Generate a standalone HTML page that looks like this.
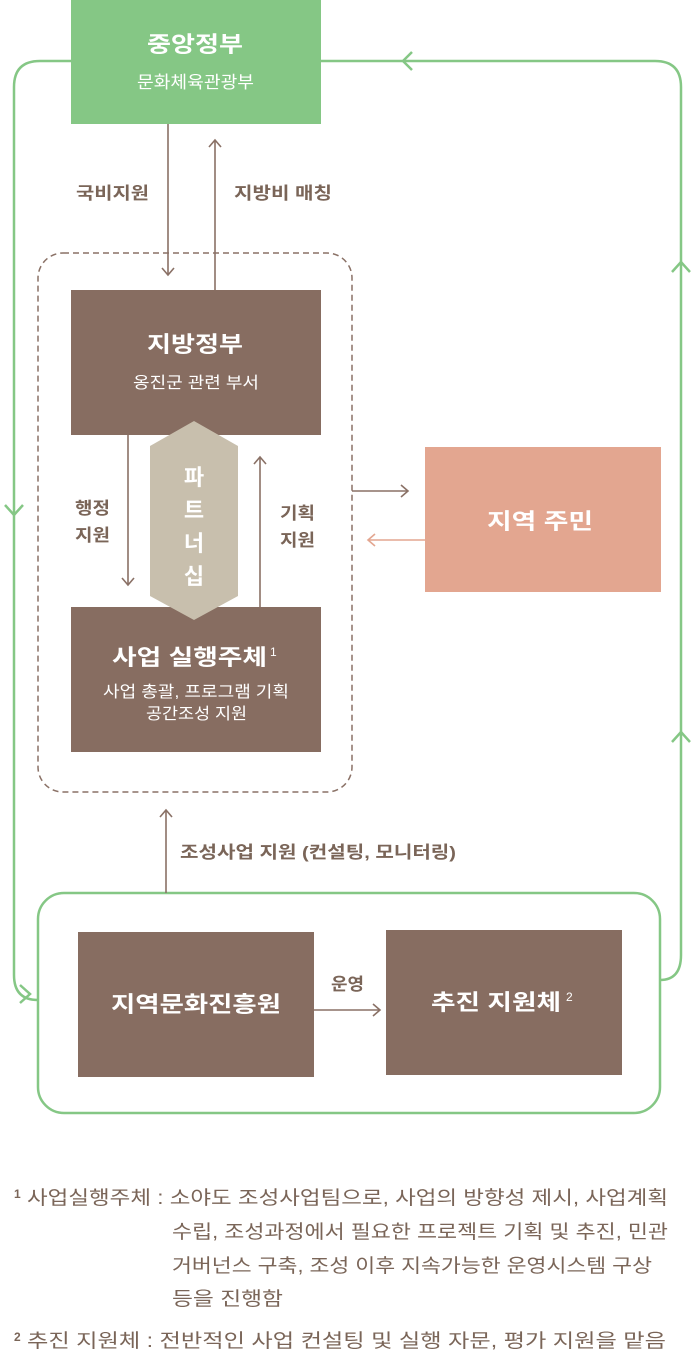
<!DOCTYPE html>
<html><head><meta charset="utf-8"><style>
body{margin:0;background:#fff;}
svg{display:block;font-family:"Liberation Sans","Noto Sans CJK KR",sans-serif;}
</style></head><body>
<svg width="697" height="1358" viewBox="0 0 697 1358">
<g fill="none" stroke="#85c785" stroke-width="2.5">
<path d="M71 61 H40 Q14 61 14 87 V975 Q14 1000 38 1000"/>
<path d="M321 61 H655 Q681 61 681 87 V955 Q681 980 660 980"/>
<path d="M412 52 L403 61 L412 70"/>
<path d="M672 272 L681 262 L690 272"/>
<path d="M672 742 L681 732 L690 742"/>
<path d="M5 505 L14 515 L23 505"/>
<path d="M20 985 L30 994 L20 1003" />
<rect x="38" y="893" width="622" height="220" rx="26"/>
</g>
<rect x="71" y="0" width="250" height="124" fill="#85c785"/>
<g lengthAdjust="spacingAndGlyphs">
<text x="147" y="52" textLength="96" lengthAdjust="spacingAndGlyphs" fill="#fff" font-size="22" font-weight="bold">중앙정부</text>
<text x="137" y="88" textLength="117" lengthAdjust="spacingAndGlyphs" fill="#fff" font-size="17">문화체육관광부</text>
</g>
<rect x="38" y="253" width="314" height="539" rx="25" fill="none" stroke="#8a7166" stroke-width="1.5" stroke-dasharray="6 4"/>
<g stroke="#8a7166" stroke-width="1.6" fill="none">
<path d="M168 124 V275 M162 268 L168 275 L174 268"/>
<path d="M215 290 V140 M209 147 L215 140 L221 147"/>
<path d="M128 435 V585 M122 578 L128 585 L134 578"/>
<path d="M260 607 V457 M254 464 L260 457 L266 464"/>
<path d="M352 491 H408 M401 485 L408 491 L401 497"/>
<path d="M166 893 V810 M160 817 L166 810 L172 817"/>
<path d="M314 1010 H380 M373 1004 L380 1010 L373 1016"/>
</g>
<path d="M425 540 H368 M375 534 L368 540 L375 546" stroke="#e3a690" stroke-width="1.6" fill="none"/>
<g fill="#7a6558" font-size="17" font-weight="bold">
<text x="76" y="199" textLength="73" lengthAdjust="spacingAndGlyphs">국비지원</text>
<text x="234" y="199" textLength="98" lengthAdjust="spacingAndGlyphs">지방비 매칭</text>
<text x="75" y="514" textLength="35" lengthAdjust="spacingAndGlyphs">행정</text><text x="75" y="541" textLength="35" lengthAdjust="spacingAndGlyphs">지원</text>
<text x="280" y="519" textLength="35" lengthAdjust="spacingAndGlyphs">기획</text><text x="280" y="546" textLength="35" lengthAdjust="spacingAndGlyphs">지원</text>
<text x="180" y="858" textLength="276" lengthAdjust="spacingAndGlyphs">조성사업 지원 (컨설팅, 모니터링)</text>
<text x="331" y="990" textLength="33" lengthAdjust="spacingAndGlyphs">운영</text>
</g>
<rect x="71" y="290" width="250" height="145" fill="#876d61"/>
<text x="147" y="352" textLength="96" lengthAdjust="spacingAndGlyphs" fill="#fff" font-size="22" font-weight="bold">지방정부</text>
<text x="133" y="388" textLength="126" lengthAdjust="spacingAndGlyphs" fill="#fff" font-size="16">옹진군 관련 부서</text>
<rect x="71" y="607" width="250" height="145" fill="#876d61"/>
<text x="112" y="665" textLength="155" lengthAdjust="spacingAndGlyphs" fill="#fff" font-size="22" font-weight="bold">사업 실행주체</text>
<text x="270" y="656" fill="#fff" font-size="12">1</text>
<text x="103" y="697" textLength="186" lengthAdjust="spacingAndGlyphs" fill="#fff" font-size="16">사업 총괄, 프로그램 기획</text>
<text x="146" y="719" textLength="101" lengthAdjust="spacingAndGlyphs" fill="#fff" font-size="16">공간조성 지원</text>
<polygon points="194,421 238,446 238,596 194,620 150,596 150,446" fill="#c8bfad"/>
<g fill="#fff" font-size="22" font-weight="bold" text-anchor="middle">
<text x="194" y="485">파</text><text x="194" y="518">트</text><text x="194" y="551">너</text><text x="194" y="584">십</text>
</g>
<rect x="425" y="447" width="236" height="145" fill="#e3a690"/>
<text x="487" y="529" textLength="106" lengthAdjust="spacingAndGlyphs" fill="#fff" font-size="22" font-weight="bold">지역 주민</text>
<rect x="78" y="932" width="236" height="145" fill="#876d61"/>
<text x="111" y="1012" textLength="170" lengthAdjust="spacingAndGlyphs" fill="#fff" font-size="22" font-weight="bold">지역문화진흥원</text>
<rect x="386" y="930" width="236" height="145" fill="#876d61"/>
<text x="431" y="1010" textLength="130" lengthAdjust="spacingAndGlyphs" fill="#fff" font-size="22" font-weight="bold">추진 지원체</text>
<text x="566" y="1001" fill="#fff" font-size="12">2</text>
<g fill="#7a6558" font-size="19">
<text x="14" y="1198" font-size="12" font-weight="bold">1</text>
<text x="27" y="1204" textLength="641" lengthAdjust="spacingAndGlyphs">사업실행주체 : 소야도 조성사업팀으로, 사업의 방향성 제시, 사업계획</text>
<text x="172" y="1238" textLength="496" lengthAdjust="spacingAndGlyphs">수립, 조성과정에서 필요한 프로젝트 기획 및 추진, 민관</text>
<text x="172" y="1272" textLength="480" lengthAdjust="spacingAndGlyphs">거버넌스 구축, 조성 이후 지속가능한 운영시스템 구상</text>
<text x="172" y="1305" textLength="111" lengthAdjust="spacingAndGlyphs">등을 진행함</text>
<text x="14" y="1341" font-size="12" font-weight="bold">2</text>
<text x="27" y="1347" textLength="639" lengthAdjust="spacingAndGlyphs">추진 지원체 : 전반적인 사업 컨설팅 및 실행 자문, 평가 지원을 맡음</text>
</g>
</svg>
</body></html>
